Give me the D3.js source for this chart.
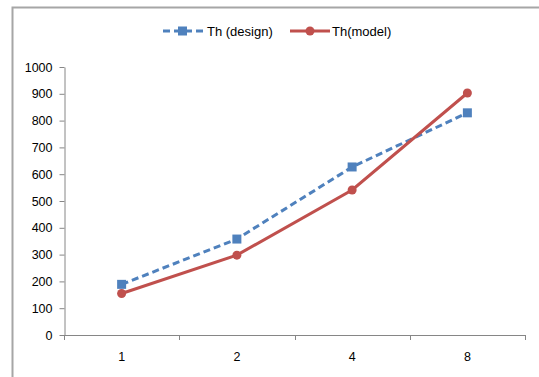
<!DOCTYPE html>
<html>
<head>
<meta charset="utf-8">
<script src="https://cdn.jsdelivr.net/npm/d3@7/dist/d3.min.js"></script>
<style>
  body { margin: 0; background: #fff; }
  text { font-family: "Liberation Sans", Arial, sans-serif; }
</style>
</head>
<body>
<div id="chart-area"></div>
<script>
// categories and series values
var categories = ["1", "2", "4", "8"];
var designValues = [189, 358, 627, 829];
var modelValues = [155, 298, 541, 903];
var yTicks = [0, 100, 200, 300, 400, 500, 600, 700, 800, 900, 1000];
var seriesNames = ["Th (design)", "Th(model)"];

var width = 539;
var height = 377;
var margin = { top: 67, right: 14, bottom: 42, left: 64 };
var chartWidth = width - margin.left - margin.right;
var chartHeight = height - margin.top - margin.bottom;

var blue = "#4f81bd";
var red = "#c0504d";
var axisColor = "#868686";

var svg = d3.select("#chart-area")
  .append("svg")
  .attr("width", width)
  .attr("height", height);

// outer frame (top and left edge visible)
svg.append("path")
  .attr("d", "M12.5," + height + "V7.5H" + width)
  .attr("fill", "none")
  .attr("stroke", "#a6a6a6")
  .attr("stroke-width", 2);

var g = svg.append("g")
  .attr("transform", "translate(" + margin.left + ", " + margin.top + ")");

var x = d3.scaleBand()
  .domain(categories)
  .range([0, chartWidth]);

var y = d3.scaleLinear()
  .domain([0, 1000])
  .range([chartHeight, 0]);

var xAxisG = g.append("g")
  .attr("transform", "translate(0, " + chartHeight + ")")
  .call(d3.axisBottom(x).tickSize(0).tickPadding(17));
xAxisG.select(".domain").remove();

// x axis line with ticks on band edges
g.append("line")
  .attr("x1", 0).attr("x2", chartWidth)
  .attr("y1", chartHeight + 0.5).attr("y2", chartHeight + 0.5)
  .attr("stroke", axisColor);
g.selectAll(".xtick")
  .data(categories.concat(["end"]))
  .enter().append("line")
  .attr("class", "xtick")
  .attr("x1", (d, i) => Math.round(i * x.step()) + 0.5)
  .attr("x2", (d, i) => Math.round(i * x.step()) + 0.5)
  .attr("y1", chartHeight)
  .attr("y2", chartHeight + 5)
  .attr("stroke", axisColor);

var yAxisG = g.append("g")
  .attr("transform", "translate(0.5, 0)")
  .call(d3.axisLeft(y).tickValues(yTicks).tickFormat(d3.format("d"))
    .tickSize(5).tickPadding(7).tickSizeOuter(0));
yAxisG.select(".domain").attr("stroke", axisColor);
yAxisG.selectAll(".tick line").attr("stroke", axisColor);

g.selectAll(".tick text")
  .attr("font-family", "'Liberation Sans', Arial, sans-serif")
  .attr("font-size", "12.5px")
  .attr("fill", "#000");

var line = d3.line()
  .x((d, i) => x(categories[i]) + x.bandwidth() / 2)
  .y(d => y(d));

g.append("path")
  .datum(designValues)
  .attr("d", line)
  .attr("fill", "none")
  .attr("stroke", blue)
  .attr("stroke-width", 3)
  .attr("stroke-dasharray", "7,4");

g.append("path")
  .datum(modelValues)
  .attr("d", line)
  .attr("fill", "none")
  .attr("stroke", red)
  .attr("stroke-width", 3);

g.selectAll(".sq")
  .data(designValues)
  .enter().append("rect")
  .attr("class", "sq")
  .attr("x", (d, i) => x(categories[i]) + x.bandwidth() / 2 - 4.5)
  .attr("y", d => y(d) - 4.5)
  .attr("width", 9)
  .attr("height", 9)
  .attr("fill", blue);

g.selectAll(".dot")
  .data(modelValues)
  .enter().append("circle")
  .attr("class", "dot")
  .attr("cx", (d, i) => x(categories[i]) + x.bandwidth() / 2)
  .attr("cy", d => y(d))
  .attr("r", 4.5)
  .attr("fill", red);

// legend
var legend = svg.append("g").attr("transform", "translate(0, 31)");
var l1 = legend.append("g");
l1.append("line")
  .attr("x1", 163).attr("x2", 203).attr("y1", 0).attr("y2", 0)
  .attr("stroke", blue).attr("stroke-width", 3).attr("stroke-dasharray", "7,4");
l1.append("rect")
  .attr("x", 178).attr("y", -4.5).attr("width", 9).attr("height", 9)
  .attr("fill", blue);
l1.append("text")
  .attr("x", 207).attr("y", 4.5)
  .attr("font-size", "13px")
  .text(seriesNames[0]);

var l2 = legend.append("g");
l2.append("line")
  .attr("x1", 290).attr("x2", 330).attr("y1", 0).attr("y2", 0)
  .attr("stroke", red).attr("stroke-width", 3);
l2.append("circle")
  .attr("cx", 310).attr("cy", 0).attr("r", 4.5)
  .attr("fill", red);
l2.append("text")
  .attr("x", 332).attr("y", 4.5)
  .attr("font-size", "13px")
  .text(seriesNames[1]);
</script>
</body>
</html>
